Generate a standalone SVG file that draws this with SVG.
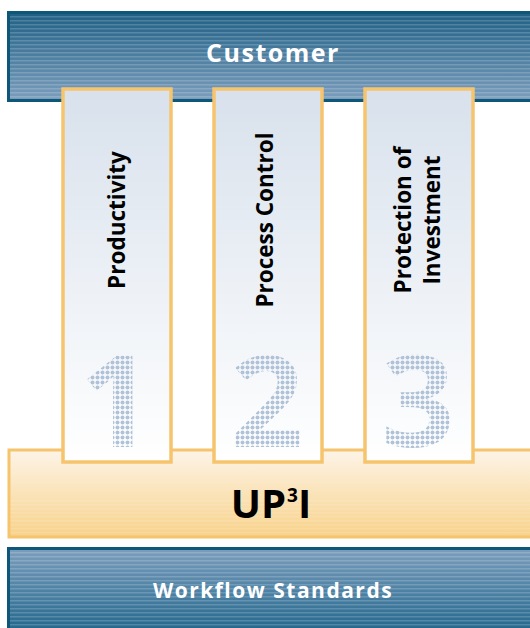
<svg xmlns="http://www.w3.org/2000/svg" width="530" height="628" viewBox="0 0 530 628">
<style>
.band{stroke:#0e5779;stroke-width:3}
.pillar{fill:url(#pillarGrad);stroke:#f6c46c;stroke-width:3.5}
.lbl{font-family:"Open Sans","Noto Sans",sans-serif;font-weight:bold;fill:#000}
.wl{font-family:"Open Sans","Noto Sans",sans-serif;font-weight:bold;fill:#fff;letter-spacing:1.5px}
.num{font-family:"Open Sans","Noto Sans",sans-serif;font-weight:bold;font-size:128px;fill:url(#dots);text-anchor:middle}
</style>
<defs>
<linearGradient id="topGrad" x1="0" y1="0" x2="0" y2="1">
<stop offset="0" stop-color="#1e5f84"/><stop offset="1" stop-color="#7c9ebd"/>
</linearGradient>
<linearGradient id="botGrad" x1="0" y1="0" x2="0" y2="1">
<stop offset="0" stop-color="#7c9ebd"/><stop offset="1" stop-color="#1a6288"/>
</linearGradient>
<linearGradient id="pillarGrad" x1="0" y1="0" x2="0" y2="1">
<stop offset="0" stop-color="#d8e1ec"/><stop offset="1" stop-color="#ffffff"/>
</linearGradient>
<linearGradient id="upGrad" x1="0" y1="0" x2="0" y2="1">
<stop offset="0" stop-color="#fdf4e8"/><stop offset="1" stop-color="#f8d28a"/>
</linearGradient>
<pattern id="stripes" width="8" height="4" patternUnits="userSpaceOnUse">
<rect width="8" height="1.5" fill="#ffffff" opacity="0.18"/>
</pattern>
<pattern id="dots" width="5" height="5" patternUnits="userSpaceOnUse">
<circle cx="2.5" cy="2.5" r="2" fill="#afc2d7"/>
</pattern>
</defs>

<g id="customer">
<rect class="band" x="8.5" y="12.5" width="530" height="88" fill="url(#topGrad)"/>
<rect x="10" y="14" width="530" height="85" fill="url(#stripes)"/>
<text class="wl" x="273" y="62" font-size="25" text-anchor="middle">Customer</text>
</g>

<g id="workflow">
<rect class="band" x="8.5" y="548.5" width="530" height="90" fill="url(#botGrad)"/>
<rect x="10" y="550" width="530" height="78" fill="url(#stripes)"/>
<text class="wl" x="273" y="598" font-size="21" text-anchor="middle">Workflow Standards</text>
</g>

<g id="up3i">
<rect x="9" y="450" width="530" height="87" fill="url(#upGrad)" stroke="#f6c46c" stroke-width="3"/>
<rect x="10" y="500" width="530" height="36" fill="url(#stripes)" opacity="0.6"/>
<text class="lbl" x="286" y="518" font-size="40" text-anchor="end">UP</text>
<text class="lbl" x="287" y="502" font-size="19">3</text>
<text class="lbl" x="298" y="518" font-size="40">I</text>
</g>

<g id="pillar1">
<rect class="pillar" x="63" y="89" width="108" height="373"/>
<text class="lbl" font-size="22.5" text-anchor="middle" transform="translate(125,220) rotate(-90)">Productivity</text>
<text class="num" x="116" y="447">1</text>
</g>

<g id="pillar2">
<rect class="pillar" x="214" y="89" width="108" height="373"/>
<text class="lbl" font-size="22.5" text-anchor="middle" transform="translate(273,220) rotate(-90)">Process Control</text>
<text class="num" x="267" y="447">2</text>
</g>

<g id="pillar3">
<rect class="pillar" x="365" y="89" width="108" height="373"/>
<text class="lbl" font-size="22.5" text-anchor="middle" transform="translate(411,220) rotate(-90)">Protection of</text>
<text class="lbl" font-size="22.5" text-anchor="middle" transform="translate(440,220) rotate(-90)">Investment</text>
<text class="num" x="418" y="447">3</text>
</g>

<g id="connectors"></g>
</svg>
